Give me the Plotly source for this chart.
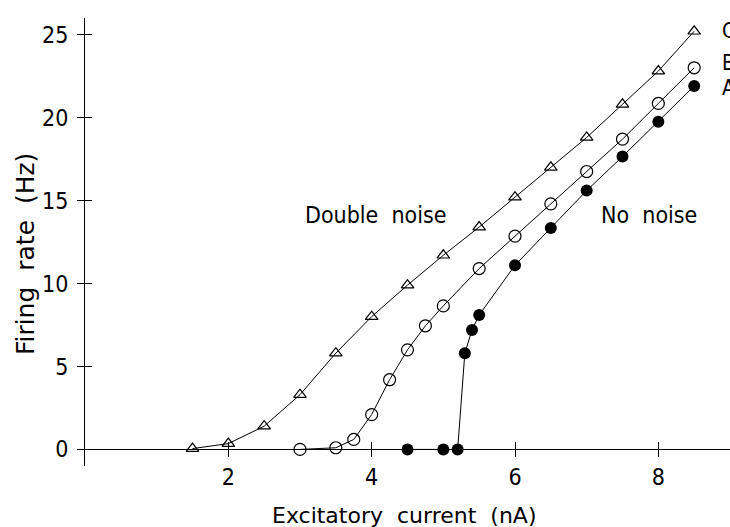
import plotly.graph_objects as go

# Firing rate vs. excitatory current for three noise levels
current_a = [4.5, 5.0, 5.2, 5.3, 5.4, 5.5, 6.0, 6.5, 7.0, 7.5, 8.0, 8.5]
rate_a = [0.0, 0.0, 0.0, 5.8, 7.2, 8.1, 11.1, 13.35, 15.6, 17.65, 19.75, 21.9]

current_b = [3.0, 3.5, 3.75, 4.0, 4.25, 4.5, 4.75, 5.0, 5.5, 6.0, 6.5, 7.0, 7.5, 8.0, 8.5]
rate_b = [0.0, 0.1, 0.6, 2.1, 4.2, 6.0, 7.45, 8.65, 10.9, 12.85, 14.8, 16.75, 18.7, 20.85, 23.0]

current_c = [1.5, 2.0, 2.5, 3.0, 3.5, 4.0, 4.5, 5.0, 5.5, 6.0, 6.5, 7.0, 7.5, 8.0, 8.5]
rate_c = [0.05, 0.35, 1.4, 3.3, 5.8, 8.0, 9.9, 11.7, 13.4, 15.2, 17.0, 18.8, 20.8, 22.8, 25.2]

x_ticks = [2, 4, 6, 8]
y_ticks = [0, 5, 10, 15, 20, 25]
x_range = [0, 9]
y_range = [-1, 26]

NARROW = "DejaVu Sans Condensed, Liberation Sans Narrow, DejaVu Sans"
WIDE = "DejaVu Sans"
INK = "black"

fig = go.Figure()

fig.add_trace(go.Scatter(
    x=current_c, y=rate_c, mode="lines+markers",
    line=dict(color=INK, width=1),
    marker=dict(symbol="triangle-up-open", size=11, color=INK, line=dict(width=1.2)),
    showlegend=False,
))
fig.add_trace(go.Scatter(
    x=current_b, y=rate_b, mode="lines+markers",
    line=dict(color=INK, width=1),
    marker=dict(symbol="circle-open", size=12, color=INK, line=dict(width=1.2)),
    showlegend=False,
))
fig.add_trace(go.Scatter(
    x=current_a, y=rate_a, mode="lines+markers",
    line=dict(color=INK, width=1),
    marker=dict(symbol="circle", size=12, color=INK),
    showlegend=False,
))
# carrier trace for the second (inward-tick) axis pair
fig.add_trace(go.Scatter(x=[None], y=[None], xaxis="x2", yaxis="y2",
                         mode="markers", showlegend=False, hoverinfo="skip"))

zero_pos = (0 - y_range[0]) / (y_range[1] - y_range[0])

common_x = dict(range=x_range, tickvals=x_ticks, showgrid=False, zeroline=False,
                anchor="free", position=zero_pos, ticklen=7, tickwidth=1,
                tickcolor=INK, linecolor=INK, linewidth=1)
common_y = dict(range=y_range, tickvals=y_ticks, showgrid=False, zeroline=False,
                ticklen=7, tickwidth=1, tickcolor=INK, linecolor=INK, linewidth=1)

fig.update_layout(
    width=730, height=527,
    margin=dict(l=85, r=0, t=18, b=61),
    paper_bgcolor="white", plot_bgcolor="white",
    font=dict(family=NARROW, color=INK),
    xaxis=dict(**common_x, showline=True, ticks="outside",
               tickfont=dict(size=23, family=NARROW, color=INK)),
    yaxis=dict(**common_y, showline=True, ticks="outside", ticklabelstandoff=4,
               tickfont=dict(size=23, family=NARROW, color=INK)),
    xaxis2=dict(**common_x, overlaying="x", showline=False, ticks="inside",
                showticklabels=False),
    yaxis2=dict(**common_y, overlaying="y", showline=False, ticks="inside",
                showticklabels=False),
)

# axis titles
fig.add_annotation(xref="paper", yref="paper", x=0.4946, y=-0.1116,
                   text="Excitatory  current  (nA)", showarrow=False,
                   xanchor="center", yanchor="middle",
                   font=dict(size=22, family=WIDE, color=INK))
fig.add_annotation(xref="paper", yref="paper", x=-0.093, y=0.473,
                   text="Firing  rate  (Hz)", showarrow=False, textangle=-90,
                   xanchor="center", yanchor="middle",
                   font=dict(size=25, family=WIDE, color=INK))

fig.add_annotation(x=4.06, y=14.1, text="Double  noise", showarrow=False,
                   font=dict(size=23, family=NARROW, color=INK))
fig.add_annotation(x=7.87, y=14.1, text="No  noise", showarrow=False,
                   font=dict(size=23, family=NARROW, color=INK))

for cx, cy, name, dy in [(current_c[-1], rate_c[-1], "C", 0),
                         (current_b[-1], rate_b[-1], "B", 5),
                         (current_a[-1], rate_a[-1], "A", -2)]:
    fig.add_annotation(x=cx, y=cy, text=name, showarrow=False, xanchor="left",
                       xshift=26, yshift=dy,
                       font=dict(size=21, family=NARROW, color=INK))

fig.write_html("out.html")
